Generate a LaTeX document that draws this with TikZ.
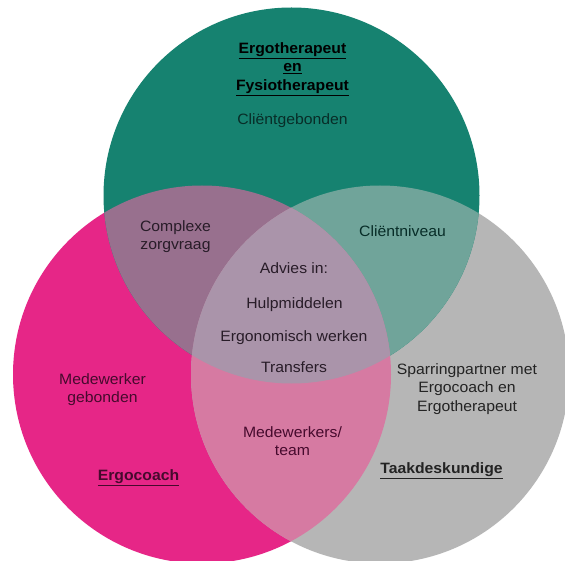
\documentclass[tikz,border=0pt]{standalone}
\usepackage{fontspec}
\setmainfont{Liberation Sans}[FakeStretch=1.05]
\definecolor{tealc}{RGB}{22,130,112}
\definecolor{pinkc}{RGB}{230,38,135}
\definecolor{grayc}{RGB}{182,182,182}
\definecolor{tlc}{RGB}{152,112,142}
\definecolor{trc}{RGB}{112,164,154}
\definecolor{lrc}{RGB}{214,122,162}
\definecolor{cc}{RGB}{170,148,170}
\definecolor{ttext}{RGB}{8,45,40}
\definecolor{ptext}{RGB}{70,10,45}
\definecolor{gtext}{RGB}{35,35,35}
\definecolor{ctext}{RGB}{40,28,40}
\begin{document}
\begin{tikzpicture}[x=1pt,y=-1pt,
  txt/.style={font=\fontsize{15}{18.5}\selectfont, align=center, inner sep=0pt},
  ttl/.style={font=\fontsize{15}{18.5}\selectfont\bfseries, align=center, inner sep=0pt}]
\useasboundingbox (0,0) rectangle (565,561);
\clip (0,0) rectangle (565,561);
\fill[white] (0,0) rectangle (565,561);
\coordinate (T) at (291.5,195.5);
\coordinate (L) at (202,374.5);
\coordinate (R) at (380,374.5);
\fill[pinkc] (L) circle (189pt);
\fill[grayc] (R) circle (189pt);
\fill[tealc] (T) circle (188pt);
\begin{scope}\clip (L) circle (189pt); \fill[tlc] (T) circle (188pt);\end{scope}
\begin{scope}\clip (R) circle (189pt); \fill[trc] (T) circle (188pt);\end{scope}
\begin{scope}\clip (L) circle (189pt); \fill[lrc] (R) circle (189pt);\end{scope}
\begin{scope}\clip (L) circle (189pt); \clip (R) circle (189pt); \fill[cc] (T) circle (188pt);\end{scope}

\node[ttl, text=black] (ergo) at (292.5,50.5) {\underline{Ergotherapeut}};
\node[ttl, text=black] (en) at (292.5,69) {\underline{en}};
\node[ttl, text=black] (fysio) at (292.5,87.5) {\underline{Fysiotherapeut}};
\node[txt, text=ttext] (client) at (292.5,120.5) {Cliëntgebonden};
\node[txt, text=ctext] (complex) at (175.5,236.5) {Complexe\\zorgvraag};
\node[txt, text=ttext] (niveau) at (402.5,231.5) {Cliëntniveau};
\node[txt, text=ctext] (advies) at (294,268.5) {Advies in:};
\node[txt, text=ctext] (hulp) at (294.5,305) {Hulpmiddelen};
\node[txt, text=ctext] (ergon) at (294,337.5) {Ergonomisch werken};
\node[txt, text=ctext] (trans) at (294,367.5) {Transfers};
\node[txt, text=ptext] (medew) at (102.5,389.5) {Medewerker\\gebonden};
\node[txt, text=gtext] (spar) at (467,389) {Sparringpartner met\\Ergocoach en\\Ergotherapeut};
\node[txt, text=ptext] (team) at (292.5,441) {Medewerkers/\\team};
\node[ttl, text=ptext] (coach) at (138.5,477.5) {\underline{Ergocoach}};
\node[ttl, text=gtext] (taak) at (441.5,471) {\underline{Taakdeskundige}};
\end{tikzpicture}
\end{document}
